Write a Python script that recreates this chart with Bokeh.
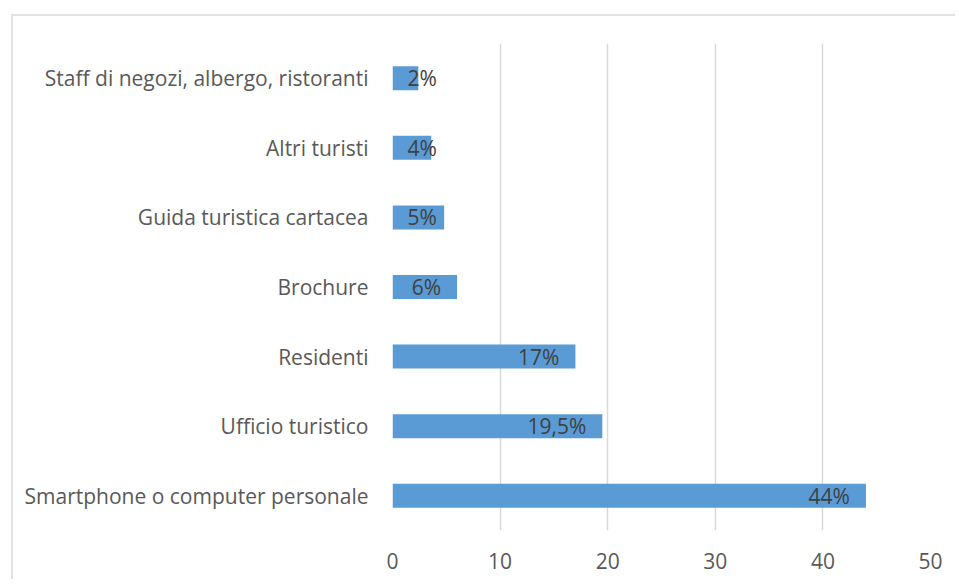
from bokeh.plotting import figure
from bokeh.models import ColumnDataSource, FactorRange, Range1d, FixedTicker
from bokeh.core.properties import value
from bokeh.embed import file_html
from bokeh.resources import INLINE

# Data (bottom to top)
categories = [
    "Smartphone o computer personale",
    "Ufficio turistico",
    "Residenti",
    "Brochure",
    "Guida turistica cartacea",
    "Altri turisti",
    "Staff di negozi, albergo, ristoranti",
]
values = [44.0, 19.5, 17.0, 6.0, 4.8, 3.6, 2.4]
labels = ["44%", "19,5%", "17%", "6%", "5%", "4%", "2%"]
x_ticks = [0, 10, 20, 30, 40, 50]

FONT = "Open Sans"
MIN_LABEL_ANCHOR = 5.6  # labels of short bars spill past the bar end

label_x = [max(v, MIN_LABEL_ANCHOR) for v in values]
src = ColumnDataSource(dict(cat=categories, val=values, lab=labels, lx=label_x))

p = figure(
    width=944, height=565,
    y_range=FactorRange(*categories, range_padding=0),
    x_range=Range1d(0, 50),
    output_backend="svg", toolbar_location=None,
    min_border_left=379, min_border_right=27, min_border_top=27, min_border_bottom=51,
)
p.styles = {
    "margin-left": "11px", "margin-top": "14px",
    "border-left": "2px solid #e2e2e2", "border-top": "2px solid #e2e2e2",
}
p.outline_line_color = None
p.background_fill_color = "white"
p.border_fill_color = "white"

p.hbar(y="cat", right="val", left=0, height=0.345, source=src,
       fill_color="#5B9BD5", line_color=None)

p.text(x="lx", y="cat", text="lab", source=src, x_offset=-16,
       text_align="right", text_baseline="middle",
       text_font=value(FONT), text_font_size="21px", text_color="#404040")

# grid
p.xgrid.ticker = FixedTicker(ticks=x_ticks)
p.xgrid.grid_line_color = "#d9d9d9"
p.xgrid.grid_line_width = 1.5
p.ygrid.grid_line_color = None

# x axis
p.xaxis.ticker = FixedTicker(ticks=x_ticks)
p.xaxis.axis_line_color = None
p.xaxis.major_tick_line_color = None
p.xaxis.minor_tick_line_color = None
p.xaxis.major_label_standoff = 16
p.xaxis.major_label_text_font = FONT
p.xaxis.major_label_text_font_size = "21px"
p.xaxis.major_label_text_color = "#595959"

# y axis
p.yaxis.axis_line_color = None
p.yaxis.major_tick_line_color = None
p.yaxis.minor_tick_line_color = None
p.yaxis.major_label_standoff = 18
p.yaxis.major_label_text_font = FONT
p.yaxis.major_label_text_font_size = "21px"
p.yaxis.major_label_text_color = "#595959"

open("out.html", "w").write(file_html(p, INLINE))
